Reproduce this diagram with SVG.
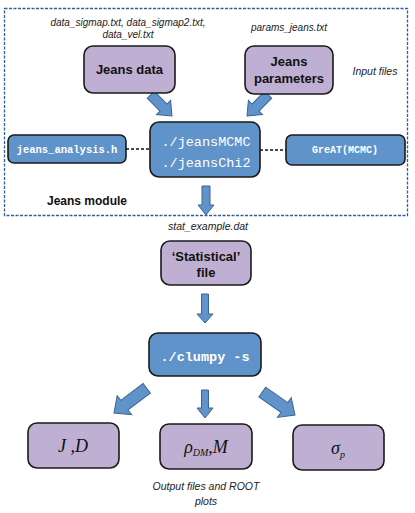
<svg xmlns="http://www.w3.org/2000/svg" width="415" height="513" viewBox="0 0 415 513">
<defs>
<style>
.purple{fill:#bfb0d3;stroke:#1a1a1a;stroke-width:1.6}
.blue{fill:#5f93c9;stroke:#1a1a1a;stroke-width:1.6}
.arrow{fill:#5f93c9;stroke:#3b6594;stroke-width:1}
.it{font-family:"Liberation Sans",Arial,sans-serif;font-style:italic;font-size:10px;fill:#222;text-anchor:middle}
.bold{font-family:"Liberation Sans",Arial,sans-serif;font-weight:bold;font-size:13px;fill:#111;text-anchor:middle}
.mono{font-family:"Liberation Mono","Courier New",monospace;font-weight:bold;fill:#fff;text-anchor:middle}
.math{font-family:"Liberation Serif","Times New Roman",serif;font-style:italic;fill:#111;text-anchor:middle}
.dash{stroke:#111;stroke-width:1.5;stroke-dasharray:3,2;fill:none}
</style>
</defs>
<rect x="4.5" y="8.5" width="403" height="207" fill="none" stroke="#2f5f9e" stroke-width="1.3" stroke-dasharray="3,1.5"/>
<g id="labels">
<text class="it" x="128" y="26">data_sigmap.txt, data_sigmap2.txt,</text>
<text class="it" x="128" y="38">data_vel.txt</text>
<text class="it" x="289" y="31">params_jeans.txt</text>
<text class="it" x="375" y="75" style="font-size:10.5px">Input files</text>
<text class="it" x="208" y="230" style="font-size:10.5px">stat_example.dat</text>
<text class="it" x="206" y="490" style="font-size:10.5px">Output files and ROOT</text>
<text class="it" x="206" y="505" style="font-size:10.5px">plots</text>
<text class="bold" x="87" y="205" style="font-size:12px">Jeans module</text>
</g>
<g id="connectors">
<path class="arrow" transform="translate(172,116) rotate(-45)" d="M-5,-30 L5,-30 L5,-12 L10,-12 L0,0 L-10,-12 L-5,-12 Z"/>
<path class="arrow" transform="translate(247,116) rotate(45)" d="M-5,-30 L5,-30 L5,-12 L10,-12 L0,0 L-10,-12 L-5,-12 Z"/>
<path class="arrow" transform="translate(206,215)" d="M-4,-29 L4,-29 L4,-10 L8,-10 L0,0 L-8,-10 L-4,-10 Z"/>
<path class="arrow" transform="translate(205,323)" d="M-3.5,-29 L3.5,-29 L3.5,-9 L8,-9 L0,0 L-8,-9 L-3.5,-9 Z"/>
<path class="arrow" transform="translate(205,418)" d="M-3.5,-28 L3.5,-28 L3.5,-10 L8,-10 L0,0 L-8,-10 L-3.5,-10 Z"/>
<path class="arrow" transform="translate(114,413) rotate(53)" d="M-6,-41 L6,-41 L6,-13 L12,-13 L0,0 L-12,-13 L-6,-13 Z"/>
<path class="arrow" transform="translate(295,415) rotate(-55)" d="M-6,-40 L6,-40 L6,-13 L12,-13 L0,0 L-12,-13 L-6,-13 Z"/>
<line class="dash" x1="126" y1="149" x2="150" y2="149"/>
<line class="dash" x1="260" y1="150" x2="286" y2="150"/>
</g>
<g id="jeans-data">
<rect class="purple" x="84" y="46" width="91" height="47" rx="9"/>
<text class="bold" x="129.5" y="74">Jeans data</text>
</g>
<g id="jeans-parameters">
<rect class="purple" x="245" y="46" width="88" height="48" rx="9"/>
<text class="bold" x="289" y="66">Jeans</text>
<text class="bold" x="289" y="83">parameters</text>
</g>
<g id="jeans-analysis">
<rect class="blue" x="8" y="135" width="118" height="28" rx="6"/>
<text class="mono" x="67" y="153" style="font-size:10.5px">jeans_analysis.h</text>
</g>
<g id="jeans-mcmc">
<rect class="blue" x="150" y="122" width="110" height="55" rx="9"/>
<text class="mono" x="206" y="146" style="font-size:13.5px;font-weight:normal">./jeansMCMC</text>
<text class="mono" x="206" y="167" style="font-size:13.5px;font-weight:normal">./jeansChi2</text>
</g>
<g id="great">
<rect class="blue" x="286" y="135" width="119" height="30" rx="6"/>
<text class="mono" x="345" y="153" style="font-size:10px">GreAT(MCMC)</text>
</g>
<g id="statistical-file">
<rect class="purple" x="161" y="241" width="90" height="44" rx="9"/>
<text class="bold" x="206" y="261">‘Statistical’</text>
<text class="bold" x="206" y="277">file</text>
</g>
<g id="clumpy">
<rect class="blue" x="149" y="333" width="112" height="43" rx="9"/>
<text class="mono" x="205" y="361" style="font-size:13.5px">./clumpy -s</text>
</g>
<g id="jd">
<rect class="purple" x="28" y="423" width="91" height="45" rx="9"/>
<text class="math" x="73" y="452" style="font-size:18px">J ,D</text>
</g>
<g id="rho">
<rect class="purple" x="160" y="424" width="92" height="45" rx="9"/>
<text class="math" x="206" y="453" style="font-size:18px">ρ<tspan style="font-size:10px" dy="3">DM</tspan><tspan dy="-3">,M</tspan></text>
</g>
<g id="sigma">
<rect class="purple" x="293" y="425" width="91" height="45" rx="9"/>
<text class="math" x="338" y="454" style="font-size:18px">σ<tspan style="font-size:10px" dy="4">p</tspan></text>
</g>
</svg>
